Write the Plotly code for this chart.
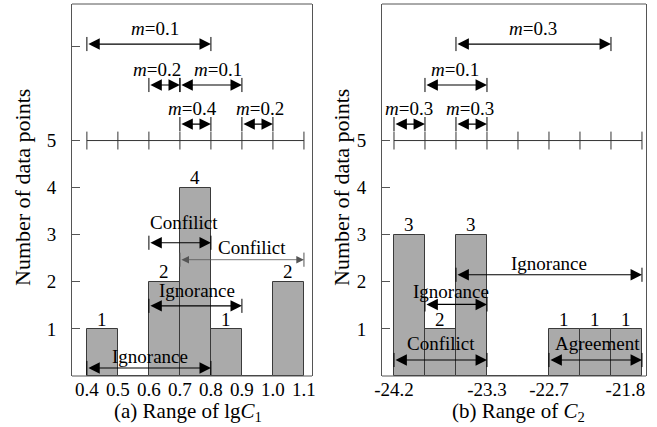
import plotly.graph_objects as go

W, H = 657, 427
FONT = "Liberation Serif, Times New Roman, DejaVu Serif, serif"

# ---------------- data ----------------
left_edges = [0.4, 0.5, 0.6, 0.7, 0.8, 0.9, 1.0, 1.1]
left_counts = [1, 0, 2, 4, 1, 0, 2]
left_bar_labels = ["1", "", "2", "4", "1", "", "2"]
left_tick_vals = [0.4, 0.5, 0.6, 0.7, 0.8, 0.9, 1.0, 1.1]
left_tick_text = ["0.4", "0.5", "0.6", "0.7", "0.8", "0.9", "1.0", "1.1"]

right_edges = [-24.2, -23.9, -23.6, -23.3, -23.0, -22.7, -22.4, -22.1, -21.8]
right_counts = [3, 1, 3, 0, 0, 1, 1, 1]
right_bar_labels = ["3", "2", "3", "", "", "1", "1", "1"]
right_tick_vals = [-24.2, -23.3, -22.7, -21.8]
right_tick_text = ["-24.2", "-23.3", "-22.7", "-21.8"]

# mass arrows (top area): start, end, level, label, label x
left_m_start = [0.4, 0.6, 0.7, 0.7, 0.9]
left_m_end = [0.8, 0.7, 0.9, 0.8, 1.0]
left_m_level = [7.05, 6.18, 6.18, 5.35, 5.35]
left_m_label = ["0.1", "0.2", "0.1", "0.4", "0.2"]
left_m_label_x = [0.62, 0.627, 0.823, 0.739, 0.959]

right_m_start = [-23.6, -23.9, -24.2, -23.6]
right_m_end = [-22.1, -23.3, -23.9, -23.3]
right_m_level = [7.05, 6.18, 5.35, 5.35]
right_m_label = ["0.3", "0.1", "0.3", "0.3"]
right_m_label_x = [-22.855, -23.605, -24.055, -23.46]

# relation arrows (bar area)
left_r_start = [0.6, 0.7, 0.6, 0.4]
left_r_end = [0.8, 1.1, 0.9, 0.8]
left_r_level = [2.83, 2.47, 1.49, 0.17]
left_r_text = ["Confilict", "Confilict", "Ignorance", "Ignorance"]
left_r_text_x = [0.7145, 0.934, 0.756, 0.602]
left_r_text_y = [3.26, 2.72, 1.82, 0.41]
left_r_thin = [False, True, False, False]

right_r_start = [-23.6, -23.9, -24.2, -22.7]
right_r_end = [-21.8, -23.3, -23.3, -21.8]
right_r_level = [2.15, 1.52, 0.34, 0.34]
right_r_text = ["Ignorance", "Ignorance", "Confilict", "Agreement"]
right_r_text_x = [-22.70, -23.653, -23.745, -22.23]
right_r_text_y = [2.38, 1.79, 0.70, 0.68]
right_r_thin = [False, False, False, False]

# ---------------- layout geometry ----------------
def px_x(p):
    return p / W

def px_y(p):
    return 1 - p / H

Y_TOP = 7.9
FRAME = "#555555"
fig = go.Figure()
annotations = []
shapes = []

panels = [
    dict(xa="x", ya="y", edges=left_edges, counts=left_counts, labels=left_bar_labels,
         ms=left_m_start, me=left_m_end, ml=left_m_level, mlab=left_m_label, mlx=left_m_label_x,
         rs=left_r_start, re=left_r_end, rl=left_r_level, rt=left_r_text, rtx=left_r_text_x,
         rty=left_r_text_y, thin=left_r_thin),
    dict(xa="x2", ya="y2", edges=right_edges, counts=right_counts, labels=right_bar_labels,
         ms=right_m_start, me=right_m_end, ml=right_m_level, mlab=right_m_label, mlx=right_m_label_x,
         rs=right_r_start, re=right_r_end, rl=right_r_level, rt=right_r_text, rtx=right_r_text_x,
         rty=right_r_text_y, thin=right_r_thin),
]

CAP = 0.15
TXT = dict(family=FONT, size=19, color="black")

def arrow(xa, ya, x0, x1, y, color="black", width=1.2, caps=True):
    annotations.append(dict(x=x1, y=y, ax=x0, ay=y, xref=xa, yref=ya, axref=xa, ayref=ya,
                            text="", showarrow=True, arrowhead=2, startarrowhead=2,
                            arrowside="end+start", arrowsize=1.9, startarrowsize=1.9,
                            arrowwidth=width, arrowcolor=color, standoff=0, startstandoff=0))
    if caps:
        for xv in (x0, x1):
            shapes.append(dict(type="line", xref=xa, yref=ya, x0=xv, x1=xv,
                               y0=y - CAP, y1=y + CAP, line=dict(color=color, width=1)))

for p in panels:
    xa, ya = p["xa"], p["ya"]
    e = p["edges"]
    centers = [(e[i] + e[i + 1]) / 2 for i in range(len(e) - 1)]
    widths = [e[i + 1] - e[i] for i in range(len(e) - 1)]
    fig.add_trace(go.Bar(x=centers, y=p["counts"], width=widths, xaxis=xa, yaxis=ya,
                         marker=dict(color="#aaaaaa", line=dict(color="#3a3a3a", width=1)),
                         showlegend=False, hoverinfo="skip"))
    # top and bottom frame lines (left/right come from the y axis)
    for yy in (0, 1):
        shapes.append(dict(type="line", xref=xa + " domain", yref=ya + " domain",
                           x0=0, x1=1, y0=yy, y1=yy, line=dict(color=FRAME, width=1)))
    for c, v, lab in zip(centers, p["counts"], p["labels"]):
        if lab:
            annotations.append(dict(x=c, y=v + 0.21, xref=xa, yref=ya, text=lab, showarrow=False,
                                    xanchor="center", yanchor="middle", font=TXT))
    # line at y=5 with ticks
    shapes.append(dict(type="line", xref=xa, yref=ya, x0=e[0], x1=e[-1], y0=5, y1=5,
                       line=dict(color="#333333", width=1)))
    for xv in e:
        shapes.append(dict(type="line", xref=xa, yref=ya, x0=xv, x1=xv, y0=4.81, y1=5.19,
                           line=dict(color="#333333", width=1)))
    for x0, x1, lv, lab, lx in zip(p["ms"], p["me"], p["ml"], p["mlab"], p["mlx"]):
        arrow(xa, ya, x0, x1, lv)
        annotations.append(dict(x=lx, y=lv + 0.33, xref=xa, yref=ya, text="<i>m</i>=" + lab,
                                showarrow=False, xanchor="center", yanchor="middle", font=TXT))
    for x0, x1, lv, t, tx, ty, thin in zip(p["rs"], p["re"], p["rl"], p["rt"], p["rtx"],
                                            p["rty"], p["thin"]):
        if thin:
            arrow(xa, ya, x0, x1, lv, color="#555555", width=0.8)
        else:
            arrow(xa, ya, x0, x1, lv)
        annotations.append(dict(x=tx, y=ty, xref=xa, yref=ya, text=t, showarrow=False,
                                xanchor="center", yanchor="middle", font=TXT))

# axis titles
TITLE = dict(family=FONT, size=22, color="black")
for cx in (22, 341):
    annotations.append(dict(x=px_x(cx), y=px_y(188), xref="paper", yref="paper",
                            xanchor="center", yanchor="middle",
                            text="Number of data points", textangle=-90, showarrow=False,
                            font=TITLE))
annotations.append(dict(x=px_x(188), y=px_y(412), xref="paper", yref="paper",
                        xanchor="center", yanchor="middle",
                        text="(a) Range of lg<i>C</i><sub>1</sub>", showarrow=False,
                        font=dict(family=FONT, size=21, color="black")))
annotations.append(dict(x=px_x(518), y=px_y(412), xref="paper", yref="paper",
                        xanchor="center", yanchor="middle",
                        text="(b) Range of <i>C</i><sub>2</sub>", showarrow=False,
                        font=dict(family=FONT, size=21, color="black")))

axis_common = dict(showgrid=False, zeroline=False, automargin=False,
                   ticklabeloverflow="allow",
                   tickfont=dict(family=FONT, size=19, color="black"))
y_common = dict(showline=True, mirror=True, linecolor=FRAME, linewidth=1,
                ticks="inside", ticklen=8, tickcolor=FRAME, ticklabelstandoff=11)
x_common = dict(showline=False, ticks="", ticklen=0, ticklabelstandoff=0)

# the last right-hand label sits left of its tick in the reference
right_tick_text_shown = right_tick_text[:-1] + [right_tick_text[-1] + "&nbsp;" * 7]

fig.update_layout(
    template="none",
    width=W, height=H, margin=dict(l=0, r=0, t=0, b=0, pad=0),
    plot_bgcolor="white", paper_bgcolor="white", bargap=0, showlegend=False,
    xaxis=dict(domain=[px_x(72), px_x(312)], range=[0.352, 1.126], anchor="y",
               tickvals=left_tick_vals, ticktext=left_tick_text, **x_common, **axis_common),
    yaxis=dict(domain=[px_y(376), px_y(4)], range=[0, Y_TOP], anchor="x",
               tickvals=[1, 2, 3, 4, 5, 7], ticktext=["1", "2", "3", "4", "5", ""],
               **y_common, **axis_common),
    xaxis2=dict(domain=[px_x(382), px_x(646)], range=[-24.316, -21.761], anchor="y2",
                tickvals=right_tick_vals, ticktext=right_tick_text_shown,
                **x_common, **axis_common),
    yaxis2=dict(domain=[px_y(376), px_y(4)], range=[0, Y_TOP], anchor="x2",
                tickvals=[1, 2, 3, 4, 5], **y_common, **axis_common),
    annotations=annotations, shapes=shapes,
)

fig.write_html("out.html")
